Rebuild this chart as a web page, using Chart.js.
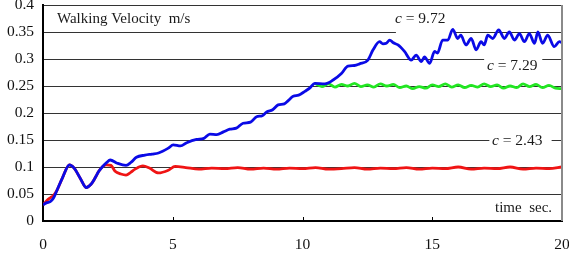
<!DOCTYPE html>
<html>
<head>
<meta charset="utf-8">
<script src="https://cdn.jsdelivr.net/npm/chart.js@4.4.1/dist/chart.umd.min.js"></script>
<style>
html,body{margin:0;padding:0;background:#fff;}
#c{display:block;}
</style>
</head>
<body>
<canvas id="c" width="569" height="257"></canvas>
<script>
// ---- data ----
const xTickLabels = ['0', '5', '10', '15', '20'];
const yTickLabels = ['0', '0.05', '0.1', '0.15', '0.2', '0.25', '0.3', '0.35', '0.4'];

const redTimes = [0,0.15,0.28,0.4,0.54,0.75,1.02,1.2,1.45,1.67,1.85,2.0,2.15,2.3,
  2.46,2.62,2.78,3.0,3.2,3.38,3.55,3.85,4.1,4.45,4.83,5.09,
  5.5,6,6.5,7,7.5,8,8.5,9,9.5,10,10.5,11,11.5,12,12.5,13,13.5,14,14.5,15,15.5,16,16.5,17,17.5,18,18.5,19,19.5,20];
const redValues = [0.03,0.038,0.043,0.047,0.057,0.08,0.104,0.098,0.078,0.062,0.068,0.079,0.092,0.101,
  0.104,0.103,0.092,0.087,0.085,0.09,0.096,0.102,0.098,0.089,0.094,0.101,
  0.099,0.096,0.098,0.097,0.099,0.096,0.098,0.096,0.098,0.097,0.099,0.096,0.097,0.099,0.096,0.098,0.097,0.099,0.096,0.098,0.097,0.1,0.096,0.098,0.097,0.1,0.096,0.098,0.097,0.1];

const blueTimes = [0,0.15,0.28,0.4,0.54,0.75,1.02,1.2,1.45,1.67,1.85,2.0,2.15,2.3,2.45,2.59,2.86,3.2,3.4,3.6,3.93,4.2,4.45,4.83,
  5.02,5.3,5.54,5.92,6.2,6.43,6.7,6.95,7.2,7.45,7.71,8.0,8.23,8.45,8.62,8.85,9.06,9.3,9.45,9.64,9.85,10.09,10.3,10.47,
  10.86,11.18,11.5,11.75,12.0,12.2,12.52,12.72,12.97,13.1,13.23,13.36,13.5,13.68,13.93,14.19,14.38,14.58,14.7,14.9,
  15.09,15.2,15.4,15.6,15.79,15.98,16.1,16.3,16.5,16.69,16.88,17.0,17.14,17.33,17.56,17.78,17.97,18.17,18.36,18.55,
  18.74,18.94,19.07,19.25,19.45,19.7,19.9,20];
const blueValues = [0.03,0.034,0.036,0.042,0.057,0.08,0.104,0.098,0.078,0.062,0.068,0.079,0.092,0.101,0.108,0.113,0.107,0.103,0.109,0.118,0.122,0.124,0.126,0.135,
  0.141,0.139,0.145,0.151,0.153,0.161,0.16,0.165,0.17,0.172,0.181,0.183,0.193,0.195,0.202,0.206,0.215,0.217,0.223,0.231,0.233,0.24,0.247,0.255,
  0.254,0.261,0.273,0.287,0.288,0.291,0.298,0.317,0.332,0.328,0.329,0.335,0.33,0.326,0.314,0.298,0.307,0.295,0.304,0.292,
  0.314,0.311,0.335,0.335,0.355,0.338,0.344,0.326,0.338,0.317,0.332,0.326,0.344,0.338,0.354,0.338,0.35,0.335,0.347,0.332,
  0.347,0.329,0.35,0.329,0.344,0.323,0.332,0.33];

const greenTimes = [10.47,10.75,11,11.25,11.5,11.75,12,12.25,12.5,12.75,13,13.25,13.5,13.75,14,14.25,14.5,14.75,15,15.25,
  15.5,15.75,16,16.25,16.5,16.75,17,17.25,17.5,17.75,18,18.25,18.5,18.75,19,19.25,19.5,19.75,20];
const greenValues = [0.255,0.249,0.254,0.248,0.253,0.25,0.255,0.249,0.252,0.248,0.254,0.25,0.253,0.247,0.25,0.245,0.249,0.246,0.252,0.249,
  0.254,0.248,0.252,0.247,0.251,0.248,0.254,0.249,0.252,0.246,0.25,0.247,0.254,0.249,0.253,0.247,0.251,0.246,0.245];

const seriesLabels = ['c = 2.43', 'c = 7.29', 'c = 9.72'];

// ---- build ----
function pts(ts, vs) { return ts.map((t, i) => ({x: t, y: vs[i]})); }

const SERIF = '"Liberation Serif", "Times New Roman", serif';

const annot = {
  id: 'annot',
  beforeDatasetsDraw(chart) {
    const ctx = chart.ctx;
    const xs = chart.scales.x, ys = chart.scales.y;
    ctx.save();
    // white label boxes over the grid lines
    ctx.fillStyle = '#fff';
    const boxes = [
      [13.6, 15.85, 0.4, 0.345],
      [17.0, 19.24, 0.315, 0.285],
      [17.2, 19.6, 0.165, 0.135]
    ];
    boxes.forEach(b => {
      const x1 = xs.getPixelForValue(b[0]), x2 = xs.getPixelForValue(b[1]);
      const y1 = ys.getPixelForValue(b[2]), y2 = ys.getPixelForValue(b[3]);
      ctx.fillRect(x1, y1 + 1, x2 - x1, y2 - y1);
    });
    ctx.fillStyle = '#1a1a1a';
    ctx.textBaseline = 'middle';
    ctx.textAlign = 'left';
    ctx.font = '15px ' + SERIF;
    ctx.fillText('Walking Velocity  m/s', 57, 19);
    ctx.fillText('time  sec.', 495, 208);
    const cl = [[395, 19, '9.72'], [487, 66, '7.29'], [492, 141, '2.43']];
    cl.forEach(c => {
      ctx.font = 'italic 15.5px ' + SERIF;
      ctx.fillText('c', c[0], c[1]);
      const w = ctx.measureText('c').width;
      ctx.font = '15.5px ' + SERIF;
      ctx.fillText(' = ' + c[2], c[0] + w, c[1]);
    });
    ctx.restore();
  },
  afterDraw(chart) {
    const ctx = chart.ctx, a = chart.chartArea;
    const xs = chart.scales.x;
    ctx.save();
    // right frame line
    ctx.strokeStyle = '#8a8a8a';
    ctx.lineWidth = 2;
    ctx.beginPath();
    ctx.moveTo(a.right, a.top);
    ctx.lineTo(a.right, a.bottom);
    ctx.stroke();
    // inward x tick marks
    ctx.strokeStyle = '#000';
    ctx.lineWidth = 1;
    [5, 10, 15].forEach(v => {
      const px = Math.round(xs.getPixelForValue(v)) + 0.5;
      ctx.beginPath();
      ctx.moveTo(px, a.bottom);
      ctx.lineTo(px, a.bottom - 4);
      ctx.stroke();
    });
    ctx.restore();
  }
};

const lineCommon = {
  pointRadius: 0,
  borderWidth: 2.8,
  fill: false,
  cubicInterpolationMode: 'monotone',
  parsing: false
};

new Chart(document.getElementById('c'), {
  type: 'line',
  data: {
    datasets: [
      Object.assign({label: seriesLabels[0], data: pts(redTimes, redValues), borderColor: '#f01414', order: 3}, lineCommon),
      Object.assign({label: seriesLabels[1], data: pts(greenTimes, greenValues), borderColor: '#22e622', order: 2}, lineCommon),
      Object.assign({label: seriesLabels[2], data: pts(blueTimes, blueValues), borderColor: '#0a0ae6', order: 1}, lineCommon)
    ]
  },
  options: {
    responsive: false,
    animation: false,
    layout: {padding: {top: 5, right: 7, left: 0, bottom: 0}},
    plugins: {legend: {display: false}, tooltip: {enabled: false}},
    scales: {
      x: {
        type: 'linear', min: 0, max: 20,
        afterFit(s) { s.height = 36; s.paddingLeft = 0; s.paddingRight = 0; },
        grid: {color: 'rgba(0,0,0,0)', drawTicks: false},
        border: {display: true, color: '#000', width: 2},
        ticks: {
          stepSize: 5, padding: 15, color: '#111', maxRotation: 0,
          font: {family: SERIF, size: 15.5},
          callback: (v, i) => xTickLabels[i]
        }
      },
      y: {
        min: 0, max: 0.4,
        afterFit(s) { s.width = 43; s.paddingTop = 0; s.paddingBottom = 0; },
        grid: {color: '#333', lineWidth: 1, drawTicks: false},
        border: {display: true, color: '#000', width: 2},
        ticks: {
          stepSize: 0.05, padding: 9, color: '#111',
          font: {family: SERIF, size: 15.5},
          callback: (v, i) => yTickLabels[i]
        }
      }
    }
  },
  plugins: [annot]
});
</script>
</body>
</html>
